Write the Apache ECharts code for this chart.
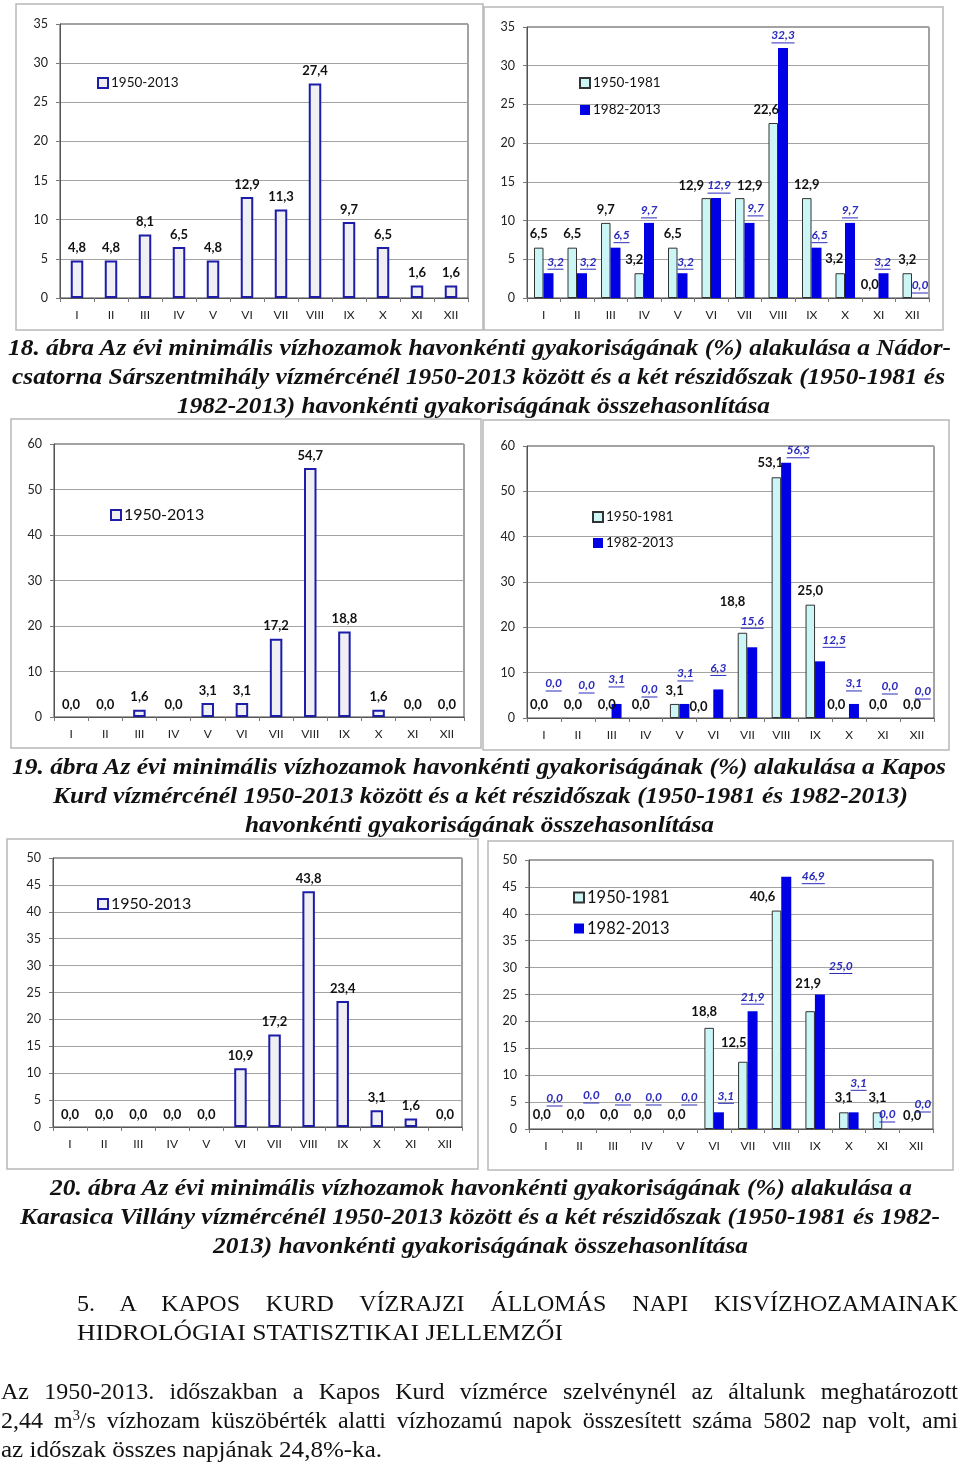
<!DOCTYPE html>
<html>
<head>
<meta charset="utf-8">
<script src="https://cdn.jsdelivr.net/npm/echarts@6/dist/echarts.min.js"></script>
<style>
  html, body { margin: 0; padding: 0; background: #fff; }
  #page { position: relative; width: 960px; height: 1464px; overflow: hidden; }
  #chart { position: absolute; left: 0; top: 0; width: 960px; height: 1464px; }
  .ln { position: absolute; white-space: nowrap; display: inline-block; height: 29px; line-height: 29px;
        font-family: "Liberation Serif", "Times New Roman", serif; color: #111; transform-origin: 0 50%; }
  .cap { font-size: 24px; font-weight: bold; font-style: italic; }
  .txt { font-size: 24px; }
  sup { font-size: 0.6em; line-height: 0; vertical-align: 0.55em; }
</style>
</head>
<body>
<div id="page">
  <div id="chart"></div>

  <span class="ln cap" data-x0="8" data-x1="951" data-cy="347">18. ábra Az évi minimális vízhozamok havonkénti gyakoriságának (%) alakulása a Nádor-</span>
  <span class="ln cap" data-x0="12" data-x1="945" data-cy="376">csatorna Sárszentmihály vízmércénél 1950-2013 között és a két részidőszak (1950-1981 és</span>
  <span class="ln cap" data-x0="177" data-x1="770" data-cy="405">1982-2013) havonkénti gyakoriságának összehasonlítása</span>

  <span class="ln cap" data-x0="12" data-x1="946" data-cy="766">19. ábra Az évi minimális vízhozamok havonkénti gyakoriságának (%) alakulása a Kapos</span>
  <span class="ln cap" data-x0="53" data-x1="908" data-cy="795">Kurd vízmércénél 1950-2013 között és a két részidőszak (1950-1981 és 1982-2013)</span>
  <span class="ln cap" data-x0="245" data-x1="714" data-cy="824">havonkénti gyakoriságának összehasonlítása</span>

  <span class="ln cap" data-x0="50" data-x1="912" data-cy="1187">20. ábra Az évi minimális vízhozamok havonkénti gyakoriságának (%) alakulása a</span>
  <span class="ln cap" data-x0="20" data-x1="940" data-cy="1216">Karasica Villány vízmércénél 1950-2013 között és a két részidőszak (1950-1981 és 1982-</span>
  <span class="ln cap" data-x0="213" data-x1="748" data-cy="1245">2013) havonkénti gyakoriságának összehasonlítása</span>

  <span class="ln txt" data-x0="77" data-x1="958" data-cy="1303" data-mode="justify">5. A KAPOS KURD VÍZRAJZI ÁLLOMÁS NAPI KISVÍZHOZAMAINAK</span>
  <span class="ln txt" data-x0="77" data-x1="563" data-cy="1332">HIDROLÓGIAI STATISZTIKAI JELLEMZŐI</span>

  <span class="ln txt" data-x0="1" data-x1="958" data-cy="1391" data-mode="justify">Az 1950-2013. időszakban a Kapos Kurd vízmérce szelvénynél az általunk meghatározott</span>
  <span class="ln txt" data-x0="1" data-x1="958" data-cy="1420" data-mode="justify">2,44 m<sup>3</sup>/s vízhozam küszöbérték alatti vízhozamú napok összesített száma 5802 nap volt, ami</span>
  <span class="ln txt" data-x0="1" data-x1="382" data-cy="1449">az időszak összes napjának 24,8%-ka.</span>
</div>

<script>
// ---------------- DATA ----------------
const months = ['I', 'II', 'III', 'IV', 'V', 'VI', 'VII', 'VIII', 'IX', 'X', 'XI', 'XII'];

const seriesAllName = '1950-2013';
const seriesEarlyName = '1950-1981';
const seriesLateName = '1982-2013';

// 18. ábra – Nádor-csatorna, Sárszentmihály
const nadorAll   = [4.8, 4.8, 8.1, 6.5, 4.8, 12.9, 11.3, 27.4, 9.7, 6.5, 1.6, 1.6];
const nadorEarly = [6.5, 6.5, 9.7, 3.2, 6.5, 12.9, 12.9, 22.6, 12.9, 3.2, 0.0, 3.2];
const nadorLate  = [3.2, 3.2, 6.5, 9.7, 3.2, 12.9, 9.7, 32.3, 6.5, 9.7, 3.2, 0.0];

// 19. ábra – Kapos, Kurd
const kaposAll   = [0.0, 0.0, 1.6, 0.0, 3.1, 3.1, 17.2, 54.7, 18.8, 1.6, 0.0, 0.0];
const kaposEarly = [0.0, 0.0, 0.0, 0.0, 3.1, 0.0, 18.8, 53.1, 25.0, 0.0, 0.0, 0.0];
const kaposLate  = [0.0, 0.0, 3.1, 0.0, 3.1, 6.3, 15.6, 56.3, 12.5, 3.1, 0.0, 0.0];

// 20. ábra – Karasica, Villány
const karasicaAll   = [0.0, 0.0, 0.0, 0.0, 0.0, 10.9, 17.2, 43.8, 23.4, 3.1, 1.6, 0.0];
const karasicaEarly = [0.0, 0.0, 0.0, 0.0, 0.0, 18.8, 12.5, 40.6, 21.9, 3.1, 3.1, 0.0];
const karasicaLate  = [0.0, 0.0, 0.0, 0.0, 0.0, 3.1, 21.9, 46.9, 25.0, 3.1, 0.0, 0.0];

// y axis ranges (tick labels)
const nadorAxis    = { min: 0, max: 35, interval: 5 };
const kaposAxis    = { min: 0, max: 60, interval: 10 };
const karasicaAxis = { min: 0, max: 50, interval: 5 };

// ---------------- LAYOUT / STYLE ----------------
const FONT = 'Lato, "Noto Sans", sans-serif';
const BLUE_LBL = '#2b2bbd';
const fmt = v => v.toFixed(1).replace('.', ',');

// label nudges (pixel offsets copying the hand-placed labels of the original)
const nudges = {
  nadorEarly: [[0,0],[0,0],[0,0],[-5,0],[0,0],[-15,1],[10,1],[-7,0],[0,0],[-6,-1],[-4,0],[0,0]],
  nadorLate:  [[7,1],[6,1],[6,0],[0,0],[3,1],[3,0],[6,-2],[0,0],[3,0],[0,0],[-1,1],[3,0]],
  kaposEarly: [[0,0],[0,0],[0,0],[0,0],[0,0],[-10,2],[-10,-17],[-6,-1],[0,0],[-8,0],[0,0],[0,0]],
  kaposLate:  [[5,-22],[4,-20],[0,-12],[-1,-16],[1,-18],[0,-9],[0,-14],[12,0],[14,-9],[0,-8],[2,-19],[1,-14]],
  karEarly:   [[1,-1],[1,-1],[1,-1],[1,-1],[1,-1],[-5,-3],[-9,-5],[-14,0],[-2,-14],[0,-1],[0,-1],[1,0]],
  karLate:    [[4,-18],[7,-21],[5,-19],[2,-19],[4,-19],[7,-4],[0,-2],[27,12],[21,-16],[5,-17],[0,-2],[2,-12]]
};

const grids = [
  { left: 60,  top: 24,  width: 408, height: 274 },
  { left: 527, top: 27,  width: 402, height: 271 },
  { left: 54,  top: 444, width: 410, height: 273 },
  { left: 527, top: 446, width: 407, height: 272 },
  { left: 53,  top: 858, width: 409, height: 269 },
  { left: 529, top: 860, width: 404, height: 269 }
];
const axisRanges = [nadorAxis, nadorAxis, kaposAxis, kaposAxis, karasicaAxis, karasicaAxis];

const frames = [
  [16, 4, 467, 326], [484, 7, 459, 323],
  [11, 419, 470, 329], [483, 420, 466, 330],
  [7, 839, 471, 330], [488, 841, 465, 329]
];

function xAxis(i) {
  return {
    type: 'category', gridIndex: i, data: months,
    axisLine: { lineStyle: { color: '#555', width: 1 } },
    axisTick: { show: true, length: 4, lineStyle: { color: '#777' } },
    axisLabel: { color: '#222', fontSize: 12, margin: 11, fontFamily: FONT, interval: 0 }
  };
}
function yAxis(i) {
  const r = axisRanges[i];
  return {
    type: 'value', gridIndex: i, min: r.min, max: r.max, interval: r.interval,
    axisLine: { show: true, lineStyle: { color: '#555', width: 1 } },
    axisTick: { show: true, length: 4, lineStyle: { color: '#777' } },
    axisLabel: { color: '#222', fontSize: 12.5, margin: 12, fontFamily: FONT },
    splitLine: { show: true, lineStyle: { color: '#a3a3a3', width: 1 } }
  };
}

function singleSeries(i, values) {
  return {
    type: 'bar', name: seriesAllName, xAxisIndex: i, yAxisIndex: i, barWidth: 12.5,
    itemStyle: { color: '#efeff4', borderColor: '#1d1daa', borderWidth: 2 },
    label: { show: true, position: 'top', distance: 6, fontSize: 13, fontWeight: 'bold',
             color: '#111', fontFamily: FONT, formatter: p => fmt(p.value) },
    data: values.map(v => v === 0 ? { value: v, itemStyle: { borderWidth: 0 } } : v)
  };
}
function earlySeries(i, values, nudge) {
  return {
    type: 'bar', name: seriesEarlyName, xAxisIndex: i, yAxisIndex: i, barWidth: 9.5, barGap: '0%',
    itemStyle: { color: '#ccf6f6', borderColor: '#333', borderWidth: 1 },
    label: { show: true, position: 'top', distance: 7, fontSize: 13, fontWeight: 'bold',
             color: '#111', fontFamily: FONT, formatter: p => fmt(p.value) },
    data: values.map((v, k) => ({ value: v, label: { offset: nudge[k] },
                                  itemStyle: v === 0 ? { borderWidth: 0 } : undefined }))
  };
}
function lateSeries(i, values, nudge) {
  const ul = { height: 1, lineHeight: 2, fontSize: 1, backgroundColor: BLUE_LBL };
  return {
    type: 'bar', name: seriesLateName, xAxisIndex: i, yAxisIndex: i, barWidth: 10, barGap: '0%',
    itemStyle: { color: '#0000e4' },
    label: {
      show: true, position: 'top', distance: 4,
      formatter: p => { const s = fmt(p.value); return '{t|' + s + '}\n{u' + s.length + '| }'; },
      rich: {
        t: { fontFamily: FONT, fontSize: 12, fontStyle: 'italic', fontWeight: 'bold', color: BLUE_LBL, lineHeight: 13 },
        u3: Object.assign({ width: 16 }, ul),
        u4: Object.assign({ width: 23 }, ul)
      }
    },
    data: values.map((v, k) => ({ value: v, label: { offset: nudge[k] } }))
  };
}

function legend(left, top, names, fontSize, lineHeight, gap) {
  return {
    orient: 'vertical', left: left, top: top, padding: 0, itemWidth: 10, itemHeight: 10,
    itemGap: gap, selectedMode: false, icon: 'rect', data: names,
    textStyle: { fontFamily: FONT, fontSize: fontSize, lineHeight: lineHeight, color: '#111', padding: [0, 0, 0, -2] }
  };
}

const option = {
  animation: false,
  textStyle: { fontFamily: FONT },
  grid: grids.map(g => Object.assign({ show: true, borderColor: '#444', borderWidth: 1, backgroundColor: 'transparent' }, g)),
  xAxis: grids.map((g, i) => xAxis(i)),
  yAxis: grids.map((g, i) => yAxis(i)),
  legend: [
    legend(97, 76, [seriesAllName], 13.5, 14, 10),
    legend(579, 76, [seriesEarlyName, seriesLateName], 13.5, 14, 13),
    legend(110, 507, [seriesAllName], 16, 16, 10),
    legend(592, 510, [seriesEarlyName, seriesLateName], 13.5, 14, 12),
    legend(97, 896, [seriesAllName], 16, 16, 10),
    legend(573, 889, [seriesEarlyName, seriesLateName], 16.5, 16, 14)
  ],
  graphic: frames.map(f => ({
    type: 'rect', silent: true, z: -10,
    shape: { x: f[0], y: f[1], width: f[2], height: f[3] },
    style: { fill: 'none', stroke: '#b8b8b8', lineWidth: 1.5 }
  })),
  series: [
    singleSeries(0, nadorAll),
    earlySeries(1, nadorEarly, nudges.nadorEarly),
    lateSeries(1, nadorLate, nudges.nadorLate),
    singleSeries(2, kaposAll),
    earlySeries(3, kaposEarly, nudges.kaposEarly),
    lateSeries(3, kaposLate, nudges.kaposLate),
    singleSeries(4, karasicaAll),
    earlySeries(5, karasicaEarly, nudges.karEarly),
    lateSeries(5, karasicaLate, nudges.karLate)
  ]
};

const chart = echarts.init(document.getElementById('chart'), null, { renderer: 'canvas' });
chart.setOption(option);

// ---------------- document text fitting ----------------
function fitLines() {
  document.querySelectorAll('.ln').forEach(el => {
    const x0 = +el.dataset.x0, x1 = +el.dataset.x1, cy = +el.dataset.cy, W = x1 - x0;
    el.style.left = x0 + 'px';
    el.style.top = (cy - 14.5) + 'px';
    el.style.wordSpacing = '0px';
    el.style.transform = 'none';
    const nat = el.getBoundingClientRect().width;
    if (el.dataset.mode === 'justify' && nat < W) {
      const n = (el.textContent.match(/ /g) || []).length;
      el.style.wordSpacing = ((W - nat) / n) + 'px';
    } else {
      el.style.transform = 'scaleX(' + (W / nat) + ')';
    }
  });
}
fitLines();
if (document.fonts && document.fonts.ready) document.fonts.ready.then(fitLines);
</script>
</body>
</html>
